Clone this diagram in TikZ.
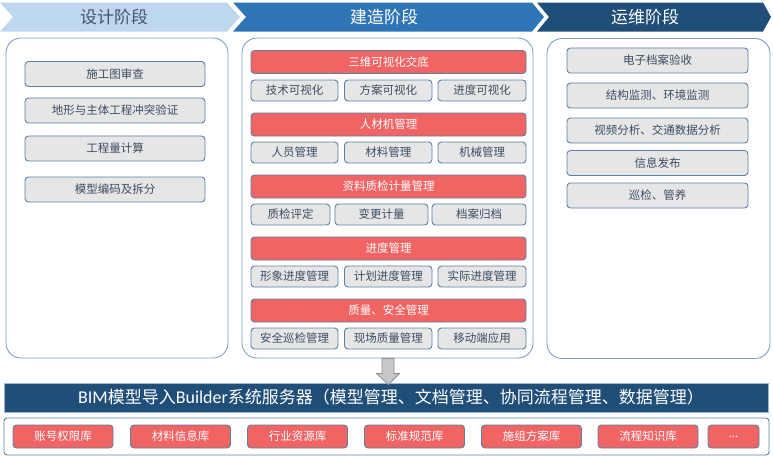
\documentclass[tikz,border=0pt]{standalone}
\usepackage{fontspec}
\newfontfamily\cjk{Noto Sans CJK SC}
\newfontfamily\latf{Carlito}
\usetikzlibrary{calc}
\definecolor{hdrA}{HTML}{BDD7EE}
\definecolor{hdrB}{HTML}{2E75B6}
\definecolor{hdrC}{HTML}{1F4E79}
\definecolor{hdrtext}{HTML}{44546A}
\definecolor{panelborder}{HTML}{7F9FC4}
\definecolor{gfill}{HTML}{E7E6E6}
\definecolor{gborder}{HTML}{5B7FA6}
\definecolor{gtext}{HTML}{3B4D63}
\definecolor{rfill}{HTML}{F06464}
\definecolor{arrfill}{HTML}{C8C8C8}
\definecolor{arrdraw}{HTML}{8C8C8C}
\definecolor{barborder}{HTML}{9DB8D6}
\tikzset{
  htext/.style={font=\cjk\fontsize{17}{19}\selectfont, inner sep=0},
  panel/.style={draw=panelborder, fill=white, line width=0.9pt, rounded corners=15pt, inner sep=0},
  gbox/.style={draw=gborder, fill=gfill, line width=0.9pt, rounded corners=3.5pt, text=gtext, font=\cjk\fontsize{11.5}{13}\selectfont, inner sep=0},
  rbox/.style={draw=gborder, fill=rfill, line width=0.9pt, rounded corners=3.5pt, text=white, font=\cjk\fontsize{11.5}{13}\selectfont, inner sep=0},
  lbox/.style={gbox, minimum width=180, minimum height=25},
  rtbox/.style={gbox, minimum width=181, minimum height=25},
  redbar/.style={rbox, minimum width=275, minimum height=23},
  sbox/.style={gbox, minimum height=21},
  libbox/.style={rbox, minimum width=100, minimum height=23},
  arrst/.style={fill=arrfill, draw=arrdraw, line width=0.8pt, line join=miter}
}
\begin{document}
\begin{tikzpicture}[x=1pt,y=-1pt]
\useasboundingbox (0,0) rectangle (773,456);
% headers
\fill[hdrA] (0,2.5) -- (227,2.5) -- (240,17) -- (227,31.5) -- (0,31.5) -- (13,17) -- cycle;
\node[htext, text=hdrtext] (h1) at (114,17) {设计阶段};
\fill[hdrB] (233,2.5) -- (532,2.5) -- (544,17) -- (532,31.5) -- (233,31.5) -- (246,17) -- cycle;
\node[htext, text=white] (h2) at (384,17) {建造阶段};
\fill[hdrC] (537,2.5) -- (763,2.5) -- (771,17) -- (763,31.5) -- (537,31.5) -- (549,17) -- cycle;
\node[htext, text=white] (h3) at (645,17) {运维阶段};
% panels
\node[panel, minimum width=222, minimum height=320] (pl) at (117,198) {};
\node[panel, minimum width=291, minimum height=320] (pm) at (387.5,198) {};
\node[panel, minimum width=223, minimum height=320] (pr) at (658.5,198.5) {};
% left boxes
\node[lbox] (l1) at (115,74) {施工图审查};
\node[lbox] (l2) at (115,110.5) {地形与主体工程冲突验证};
\node[lbox] (l3) at (115,148.5) {工程量计算};
\node[lbox] (l4) at (115,189.5) {模型编码及拆分};
% right boxes
\node[rtbox] (r1) at (657.5,60.5) {电子档案验收};
\node[rtbox] (r2) at (657.5,95.5) {结构监测、环境监测};
\node[rtbox] (r3) at (657.5,130.5) {视频分析、交通数据分析};
\node[rtbox] (r4) at (657.5,163) {信息发布};
\node[rtbox] (r5) at (657.5,195.5) {巡检、管养};
% middle
\node[redbar] (m1) at (388.5,62) {三维可视化交底};
\node[sbox, minimum width=87] (m1a) at (294.5,90.5) {技术可视化};
\node[sbox, minimum width=87.5] (m1b) at (388.25,90.5) {方案可视化};
\node[sbox, minimum width=88] (m1c) at (482,90.5) {进度可视化};
\node[redbar] (m2) at (388.5,124.5) {人材机管理};
\node[sbox, minimum width=87] (m2a) at (294.5,152.5) {人员管理};
\node[sbox, minimum width=87.5] (m2b) at (388.25,152.5) {材料管理};
\node[sbox, minimum width=88] (m2c) at (482,152.5) {机械管理};
\node[redbar] (m3) at (388.5,186.5) {资料质检计量管理};
\node[sbox, minimum width=79] (m3a) at (290.5,214.5) {质检评定};
\node[sbox, minimum width=93] (m3b) at (381.5,214.5) {变更计量};
\node[sbox, minimum width=94] (m3c) at (479,214.5) {档案归档};
\node[redbar] (m4) at (388.5,248.5) {进度管理};
\node[sbox, minimum width=87] (m4a) at (294.5,276.5) {形象进度管理};
\node[sbox, minimum width=87.5] (m4b) at (388.25,276.5) {计划进度管理};
\node[sbox, minimum width=88] (m4c) at (482,276.5) {实际进度管理};
\node[redbar] (m5) at (388.5,310.5) {质量、安全管理};
\node[sbox, minimum width=87] (m5a) at (294.5,338.5) {安全巡检管理};
\node[sbox, minimum width=87.5] (m5b) at (388.25,338.5) {现场质量管理};
\node[sbox, minimum width=88] (m5c) at (482,338.5) {移动端应用};
% bottom bar
\node[draw=barborder, fill=hdrC, line width=0.8pt, minimum width=764, minimum height=29, inner sep=0] (bar) at (386,397.5) {};
\node[text=white, inner sep=0, font=\cjk\fontsize{17}{19}\selectfont] (bartext) at ($(bar.center)+(5,0)$)
  {{\latf\fontsize{18}{19}\selectfont BIM}模型导入{\latf\fontsize{18}{19}\selectfont Builder}系统服务器（模型管理、文档管理、协同流程管理、数据管理）};
% arrow
\coordinate (as) at ($(pm.south)+(0.5,0)$);
\coordinate (at) at ($(bar.north)+(2.5,2)$);
\draw[arrst] ($(as)+(-6,0)$) -- ($(as)+(-6,15)$) -- ($(as)+(-11.5,15)$) -- (at) -- ($(as)+(11.5,15)$) -- ($(as)+(6,15)$) -- ($(as)+(6,0)$) -- cycle;
% library container
\node[draw=gborder, line width=0.9pt, rounded corners=3pt, minimum width=765, minimum height=37, inner sep=0] (lib) at (386.5,436.5) {};
\node[libbox] (k1) at (63,436.5) {账号权限库};
\node[libbox] (k2) at (180.5,436.5) {材料信息库};
\node[libbox] (k3) at (297.5,436.5) {行业资源库};
\node[libbox] (k4) at (414.5,436.5) {标准规范库};
\node[libbox] (k5) at (531.5,436.5) {施组方案库};
\node[libbox] (k6) at (648,436.5) {流程知识库};
\node[rbox, minimum width=51, minimum height=23] (k7) at (733.5,436.5) {...};
\end{tikzpicture}
\end{document}
